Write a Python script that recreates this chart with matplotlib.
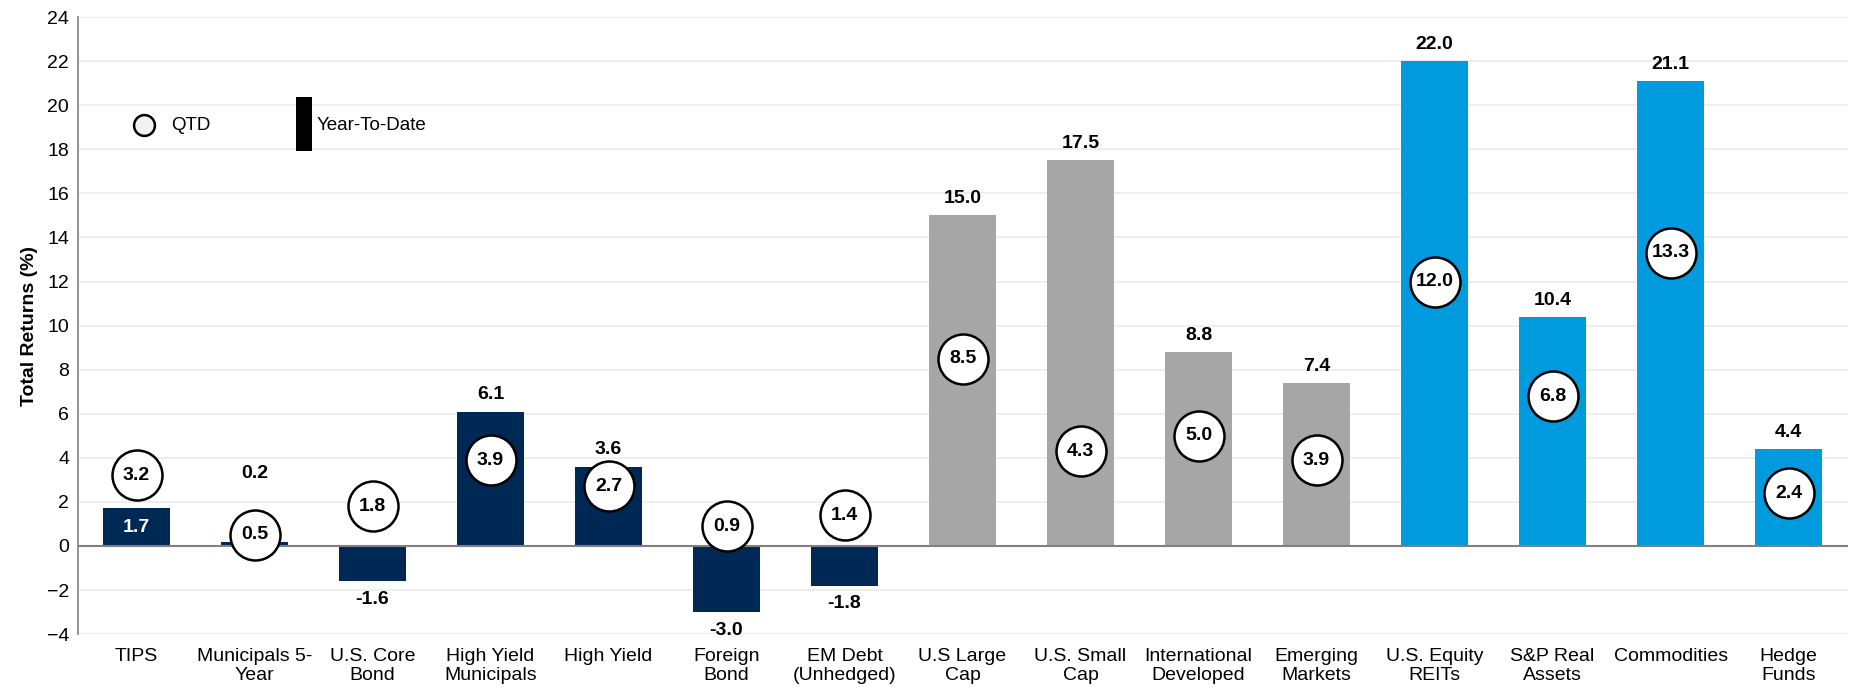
import numpy as np
import matplotlib
matplotlib.use('Agg')
import matplotlib.pyplot as plt
from matplotlib.patches import Rectangle

plt.rcParams['font.family'] = ['Liberation Sans', 'DejaVu Sans']

# Data
categories = ['TIPS', 'Municipals 5-\nYear', 'U.S. Core\nBond', 'High Yield\nMunicipals',
              'High Yield', 'Foreign\nBond', 'EM Debt\n(Unhedged)', 'U.S Large\nCap',
              'U.S. Small\nCap', 'International\nDeveloped', 'Emerging\nMarkets',
              'U.S. Equity\nREITs', 'S&P Real\nAssets', 'Commodities', 'Hedge\nFunds']
ytd = [1.7, 0.2, -1.6, 6.1, 3.6, -3.0, -1.8, 15.0, 17.5, 8.8, 7.4, 22.0, 10.4, 21.1, 4.4]
qtd = [3.2, 0.5, 1.8, 3.9, 2.7, 0.9, 1.4, 8.5, 4.3, 5.0, 3.9, 12.0, 6.8, 13.3, 2.4]
groups = ['fixed'] * 7 + ['equity'] * 4 + ['real'] * 4

colors = {'fixed': '#002855', 'equity': '#A6A6A6', 'real': '#009ADE'}
# where the YTD label goes: normal / inside the bar / above the circle
label_mode = ['inside', 'above_circle'] + ['normal'] * 13

x = np.arange(len(categories))

fig = plt.figure(figsize=(18.5, 6.93), dpi=100)
ax = fig.add_axes([0.0419, 0.085, 0.9568, 0.8903])

ax.set_ylim(-4, 24)
ax.set_xlim(-0.5, len(categories) - 0.5)
ax.set_yticks(np.arange(-4, 25, 2))
ax.yaxis.grid(True, color='#EBEBEB', linewidth=1.2)
ax.set_axisbelow(True)

ax.bar(x, ytd, width=0.57, color=[colors[g] for g in groups], zorder=2)
ax.axhline(0, color='#808080', linewidth=1.5, zorder=3)

# QTD circles
ax.plot(x, qtd, 'o', markersize=36, markerfacecolor='white', markeredgecolor='black',
        markeredgewidth=1.8, linestyle='none', zorder=4)
for xi, q in zip(x, qtd):
    ax.text(xi, q, f'{q:.1f}', ha='center', va='center', fontsize=14,
            fontweight='bold', zorder=5)

# YTD labels
for xi, v, mode in zip(x, ytd, label_mode):
    if mode == 'inside':
        ax.text(xi, v / 2, f'{v:.1f}', ha='center', va='center', fontsize=14,
                fontweight='bold', color='white', zorder=5)
    elif mode == 'above_circle':
        ax.annotate(f'{v:.1f}', (xi, qtd[xi]), xytext=(0, 44), textcoords='offset points',
                    ha='center', va='center', fontsize=14, fontweight='bold', zorder=5)
    else:
        off = 12 if v >= 0 else -13
        ax.annotate(f'{v:.1f}', (xi, v), xytext=(0, off), textcoords='offset points',
                    ha='center', va='center', fontsize=14, fontweight='bold', zorder=5)

ax.set_xticks(x)
ax.set_xticklabels(categories, fontsize=14, linespacing=1.15)
ax.tick_params(axis='x', length=0, pad=10)
ax.tick_params(axis='y', length=0, labelsize=14, pad=6)
ax.set_ylabel('Total Returns (%)', fontsize=14, fontweight='bold', labelpad=6)

for s in ['top', 'right', 'bottom']:
    ax.spines[s].set_visible(False)
ax.spines['left'].set_color('#808080')
ax.spines['left'].set_linewidth(1.2)

# manual legend
ax.plot([0.0376], [0.825], 'o', markersize=15, markerfacecolor='#F2F2F2',
        markeredgecolor='black', markeredgewidth=1.8, transform=ax.transAxes,
        clip_on=False, zorder=6)
ax.text(0.0528, 0.825, 'QTD', transform=ax.transAxes, fontsize=13.5, va='center')
ax.add_patch(Rectangle((0.1234, 0.783), 0.009, 0.0875, transform=ax.transAxes,
                       facecolor='black', edgecolor='none', zorder=6))
ax.text(0.1353, 0.825, 'Year-To-Date', transform=ax.transAxes, fontsize=13.5, va='center')

fig.savefig('out.png', dpi=100, facecolor='white')
